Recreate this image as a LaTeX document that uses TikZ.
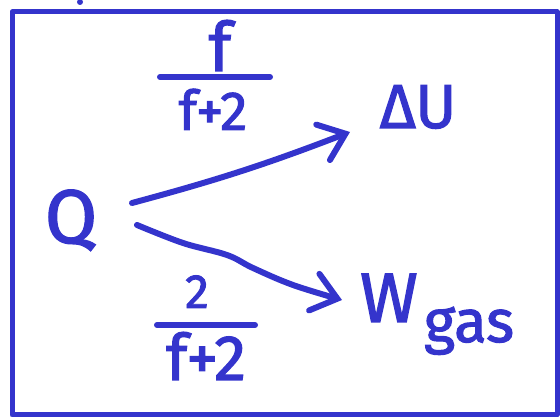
\documentclass[tikz,border=0pt]{standalone}
\usepackage{fontspec}
\setmainfont{Fira Sans}[FakeBold=1.8]
\newfontfamily\hand{Fira Sans}[FakeBold=1.8]
\usetikzlibrary{arrows.meta}
\definecolor{handblue}{RGB}{52,52,204}
\tikzset{
  ink/.style={draw=handblue, line width=6pt, line cap=round, line join=round},
  txt/.style={text=handblue, inner sep=0pt, outer sep=0pt, font=\hand},
  barb/.style={-{Straight Barb[length=24pt,width=38pt,line cap=round]}}
}
\newcommand{\fs}[1]{\fontsize{#1}{#1}\selectfont}
\begin{document}
\begin{tikzpicture}[x=1pt,y=1pt]
\useasboundingbox (0,0) rectangle (560,417);
% frame
\draw[draw=handblue, line width=5pt, line join=round] (12,2) -- (12,405) -- (557,405) -- (557,2) -- cycle;
\fill[handblue] (80,415) circle (3);
% nodes
\node[txt, anchor=base] (Q) at (71,174) {\fs{76}Q};
\node[txt, anchor=base] (dU) at (418,289) {\fs{62}ΔU};
\node[txt, anchor=base west] (W) at (360,95) {\fs{70}W};
\node[txt, anchor=base west] (gas) at (424,75) {\fs{60}gas};
% top fraction
\node[txt, anchor=base] (tn) at (220,346) {\fs{68}f};
\coordinate (tl1) at (160,340);
\coordinate (tl2) at (270,340);
\draw[ink] (tl1) -- (tl2);
\node[txt, anchor=base] (td) at (213,287) {\fs{55}f+2};
% bottom fraction
\node[txt, anchor=base] (bn) at (197,109) {\fs{48}2};
\coordinate (bl1) at (157,92);
\coordinate (bl2) at (255,92);
\draw[ink] (bl1) -- (bl2);
\node[txt, anchor=base] (bd) at (206,37) {\fs{64}f+2};
% arrows
\coordinate (a1s) at (132,214);
\coordinate (a1e) at (350,285);
\draw[ink, barb] (a1s) to[bend right=3] (a1e);
\coordinate (a2s) at (137,192);
\coordinate (a2e) at (342,117);
\draw[ink, barb] plot[smooth, tension=0.6] coordinates {(a2s) (183,174) (227,162) (253,149) (293,132) (a2e)};
\end{tikzpicture}
\end{document}
